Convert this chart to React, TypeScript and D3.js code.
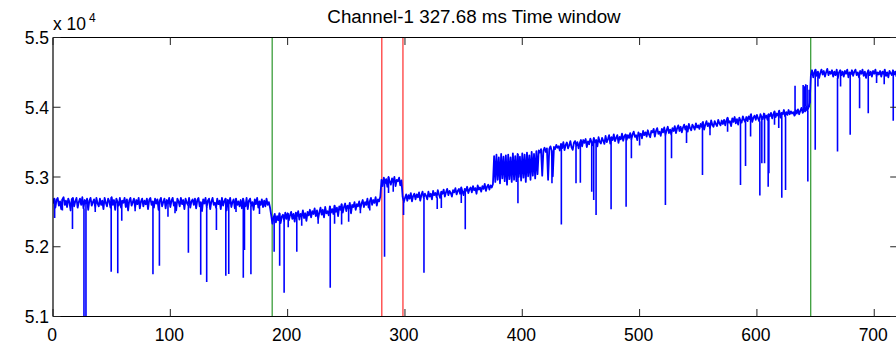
import { useMemo } from "react";
import * as d3 from "d3";

// Channel-1 raw samples, one per time unit, split where the level jumps
const segA = { start: 0, values: [
  52620,52690,52560,52670,52700,52590,52650,52540,52680,52710,52600,52660,52570,52690,52640,52520,52680,52700,52580,52650,
  52700,52560,52640,52690,52600,52710,52550,52670,52620,52690,52530,52660,52700,52590,52640,52680,52560,52700,52620,52580,
  52690,52600,52660,52540,52700,52630,52580,52690,52650,52560,52710,52600,52670,52530,52690,52640,52590,52700,52560,52660,
  52630,52700,52570,52680,52520,52660,52700,52590,52640,52690,52560,52670,52610,52700,52550,52650,52690,52580,52660,52610,
  52690,52540,52670,52700,52600,52650,52560,52690,52620,52680,52530,52660,52700,52580,52640,52690,52550,52670,52620,52700,
  52570,52660,52700,52590,52640,52520,52690,52650,52580,52700,52610,52670,52540,52690,52630,52600,52700,52560,52650,52680,
  52600,52690,52550,52670,52700,52580,52640,52510,52680,52620,52700,52570,52660,52690,52540,52650,52700,52600,52630,52560,
  52690,52610,52660,52540,52700,52590,52650,52690,52520,52670,52620,52700,52570,52640,52680,52550,52690,52600,52650,52580,
  52670,52550,52690,52620,52580,52700,52540,52660,52690,52590,52640,52530,52680,52610,52700,52560,52650,52600,52680,52570,
  52660,52580,52690,52600,52640,52560,
] };
const segB = { start: 186, values: [
  52450,52330,52420,52470,52350,52440,52380,52480,52340,52430,52460,52370,52490,52400,
  52480,52380,52450,52500,52400,52470,52360,52490,52440,52510,52390,52470,52430,52520,52410,52480,52370,52500,52450,52530,
  52420,52510,52470,52550,52440,52520,52400,52490,52560,52460,52530,52420,52570,52480,52510,52450,52580,52490,52540,52470,
  52590,52500,52560,52440,52580,52530,52610,52490,52570,52620,52510,52590,52550,52630,52480,52600,52570,52640,52530,52610,
  52580,52650,52540,52620,52670,52570,52640,52600,52690,52560,52650,52700,52600,52670,52630,52710,52590,52680,52650,52720,
] };
const segC = { start: 280, values: [
  52960,52870,52990,52910,52970,52860,53000,52930,52890,52980,52920,53000,52870,52960,52940,52990,52880,52950,
] };
const segD = { start: 298, values: [
  52720,52640,52700,52750,52660,52740,52690,52770,52650,52730,52760,52680,52750,52710,52780,52660,52740,52790,52700,52760,52730,52680,
  52790,52720,52760,52680,52800,52740,52770,52710,52810,52750,52700,52790,52760,52820,52720,52780,52830,52740,52800,52770,
  52720,52810,52780,52840,52750,52800,52830,52760,52850,52790,52740,52830,52800,52860,52770,52820,52850,52780,52870,52810,
  52840,52760,52880,52820,52850,52790,52870,52830,52900,52800,52860,52890,52820,52880,52850,
] };
const segE = { start: 375, values: [
  52900,53300,52930,53320,52960,53280,52910,53330,52980,53290,52940,53310,52890,53320,52970,53280,52930,53340,52960,53300,
  52940,53330,53000,53290,52950,53340,52990,53320,52930,53350,53010,53310,52960,53360,53020,53330,52980,53370,53040,53380,
  53350,53400,53020,53380,53420,53360,53410,52960,53400,53440,53380,53010,53430,53400,53460,53420,
] };
const segF = { start: 431, values: [
  53440,53380,53475,53415,53500,53385,53460,53495,53410,53455,53515,53425,53390,53490,53515,53450,53500,53410,53485,53530,
  53440,53530,53490,53545,53430,53510,53470,53550,53500,53455,53560,53495,53530,53440,53570,53505,53480,53560,53520,53475,
  53590,53500,53545,53600,53480,53570,53530,53610,53515,53560,53600,53490,53575,53540,53620,53520,53585,53610,53535,53600,
  53560,53630,53540,53610,53650,53575,53600,53530,53640,53590,53620,53555,53660,53600,53640,53580,53670,53610,53570,53660,
  53640,53690,53580,53660,53700,53620,53650,53590,53690,53640,53710,53600,53670,53720,53630,53680,53610,53700,53660,53730,
  53630,53700,53740,53660,53720,53640,53710,53750,53680,53730,53650,53760,53700,53670,53750,53720,53680,53770,53710,53740,
  53690,53760,53720,53790,53680,53750,53800,53730,53770,53700,53810,53750,53720,53800,53760,53730,53820,53770,53740,53810,
  53760,53820,53740,53810,53850,53780,53800,53730,53840,53790,53860,53770,53830,53750,53850,53810,53780,53870,53820,53790,
  53860,53800,53870,53830,53900,53790,53850,53880,53820,53890,53840,53800,53900,53860,53830,53910,53850,53880,53820,53900,
  53870,53920,53840,53900,53940,53860,53910,53880,53950,53850,53920,53900,53960,53870,53930,53890,53960,53900,53940,53910,
  53930,53880,53960,53910,53970,53900,53950,53990,53920,53980,53940,54010,53950,54000,54060,
] };
const segG = { start: 646, values: [
  54460,54530,54430,54500,54540,54450,54510,54420,54490,54540,54470,54520,54440,54500,54550,54460,54510,54480,54530,54440,
  54510,54460,54540,54420,54500,54530,54460,54510,54440,54520,54480,54540,54430,54500,54470,54530,54450,54510,54540,54460,
  54500,54430,54520,54480,54540,54450,54510,54420,54490,54530,54460,54510,54440,54520,54480,54540,54450,54500,54470,54520,
  54440,54510,54480,54540,54450,54500,54430,54520,54490,54460,54530,54470,54510,54440,54500,
] };
const segments = [segA, segB, segC, segD, segE, segF, segG];

// isolated spikes [time, extreme value]
const spikes: [number, number][] = [
  [1.4, 52413], [8, 52520], [16.6, 52255], [26.4, 50800], [28.1, 50800], [36, 52500], [49.6, 51642], [55.2, 51619],
  [58.6, 52374], [70, 52510], [85.2, 51605], [90.7, 51728], [98, 52431], [104, 52480], [115.4, 51915], [125.9, 51599],
  [131, 51494], [139.3, 52240], [147.3, 51585], [149.8, 51609], [156, 52500], [162.2, 51556], [163.2, 51953],
  [168.7, 51605], [176, 52470], [188.5, 51929], [193.2, 51728], [197, 51341], [200.5, 52280], [207.8, 51929],
  [212, 52300], [226, 52330], [236.3, 51413], [240, 52330], [246, 52320], [252, 52360], [262, 52480], [270, 52520],
  [282.6, 51858], [286, 52771], [290, 52790], [298.8, 52456], [316.2, 51628], [327.5, 52542], [331, 52556],
  [348, 52628], [351.4, 52250], [396.3, 52624], [425.3, 52910], [433.3, 52318], [445.8, 52910], [449.5, 52919],
  [459.2, 52790], [460.9, 52671], [462.9, 52456], [475.7, 52538], [488.5, 52575], [493, 53269], [500, 53450],
  [522, 52599], [527.2, 53269], [540, 53489], [553.6, 53030], [560, 53600], [575, 53650], [586, 52886],
  [590.3, 53159], [594.6, 53580], [602.5, 52733], [604.2, 53198], [606.5, 53198], [609.6, 52862], [610.2, 53054],
  [615, 53750], [618.6, 53704], [621.2, 52704], [624.4, 52815], [632.5, 54307], [639.4, 54320], [640.5, 54300],
  [641.6, 54330], [642.8, 54320], [643.4, 52934], [644.5, 54250], [645.3, 54200], [649.7, 53389], [652, 54297],
  [668.7, 53364], [671.3, 54297], [679.5, 53604], [687.5, 53987], [694.9, 53915], [702, 54346], [708.5, 54330],
  [716.2, 53805],
];

const greenMarks = [186.8, 645.9];
const redMarks = [280.3, 298.3];

const xTicks = [0, 100, 200, 300, 400, 500, 600, 700];
const yTicks = [51000, 52000, 53000, 54000, 55000];
const yTickLabels = ["5.1", "5.2", "5.3", "5.4", "5.5"];

const W = 896;
const H = 346;
const font = "'Liberation Sans', Arial, Helvetica, sans-serif";

export default function App() {
  const x = d3.scaleLinear().domain([0, 720]).range([53, 897.7]);
  const y = d3.scaleLinear().domain([51000, 55000]).range([316.5, 37.5]);

  const points = useMemo(() => {
    const pts: [number, number][] = [];
    segments.forEach((s) => s.values.forEach((v, i) => pts.push([s.start + i, v])));
    return pts;
  }, []);

  const valueAt = (t: number) => {
    let best = points[0];
    for (const p of points) if (Math.abs(p[0] - t) < Math.abs(best[0] - t)) best = p;
    return best[1];
  };

  const line = d3
    .line<[number, number]>()
    .x((d) => x(d[0]))
    .y((d) => y(d[1]));

  const [x0, x1] = x.range();
  const [yb, yt] = y.range();
  const tickLen = 7.5;

  return (
    <svg width={W} height={H} style={{ position: "absolute", left: 0, top: 0, background: "#fff" }}>
      <defs>
        <clipPath id="plot">
          <rect x={x0} y={yt} width={x1 - x0} height={yb - yt} />
        </clipPath>
      </defs>

      <text x={474} y={23} textAnchor="middle" fontSize={18.8} fontFamily={font} fill="#000">
        Channel-1 327.68 ms Time window
      </text>

      <g clipPath="url(#plot)">
        {greenMarks.map((m) => (
          <line key={`g${m}`} x1={x(m)} x2={x(m)} y1={yt} y2={yb} stroke="#008000" strokeWidth={1} />
        ))}
        {redMarks.map((m) => (
          <line key={`r${m}`} x1={x(m)} x2={x(m)} y1={yt} y2={yb} stroke="#ff0000" strokeWidth={1} />
        ))}
        <path d={line(points) ?? ""} fill="none" stroke="#0000ff" strokeWidth={1.8} strokeLinejoin="round" />
        {spikes.map(([t, v]) => (
          <line
            key={`s${t}`}
            x1={x(t)}
            x2={x(t)}
            y1={y(valueAt(t))}
            y2={y(v)}
            stroke="#0000ff"
            strokeWidth={1.6}
          />
        ))}
      </g>

      {/* axes box */}
      <line x1={x0} x2={x1} y1={yt} y2={yt} stroke="#000" strokeWidth={1.2} />
      <line x1={x0} x2={x1} y1={yb} y2={yb} stroke="#000" strokeWidth={1.2} />
      <line x1={x0} x2={x0} y1={yt} y2={yb} stroke="#000" strokeWidth={1.2} />
      <line x1={x1} x2={x1} y1={yt} y2={yb} stroke="#000" strokeWidth={1.2} />

      {xTicks.map((t) => (
        <g key={`xt${t}`}>
          <line x1={x(t)} x2={x(t)} y1={yb} y2={yb - tickLen} stroke="#222" strokeWidth={1} />
          <line x1={x(t)} x2={x(t)} y1={yt} y2={yt + tickLen} stroke="#222" strokeWidth={1} />
          <text x={x(t) - 1} y={340.5} textAnchor="middle" fontSize={17.5} fontFamily={font} fill="#000">
            {t}
          </text>
        </g>
      ))}

      {yTicks.map((t, i) => (
        <g key={`yt${t}`}>
          <line x1={x0} x2={x0 + tickLen} y1={y(t)} y2={y(t)} stroke="#222" strokeWidth={1} />
          <line x1={x1} x2={x1 - tickLen} y1={y(t)} y2={y(t)} stroke="#222" strokeWidth={1} />
          <text x={49} y={y(t) + 6.5} textAnchor="end" fontSize={17.5} fontFamily={font} fill="#000">
            {yTickLabels[i]}
          </text>
        </g>
      ))}

      <text x={53} y={29.5} fontSize={17.5} fontFamily={font} fill="#000">
        x 10
      </text>
      <text x={89} y={22} fontSize={12} fontFamily={font} fill="#000">
        4
      </text>
    </svg>
  );
}
